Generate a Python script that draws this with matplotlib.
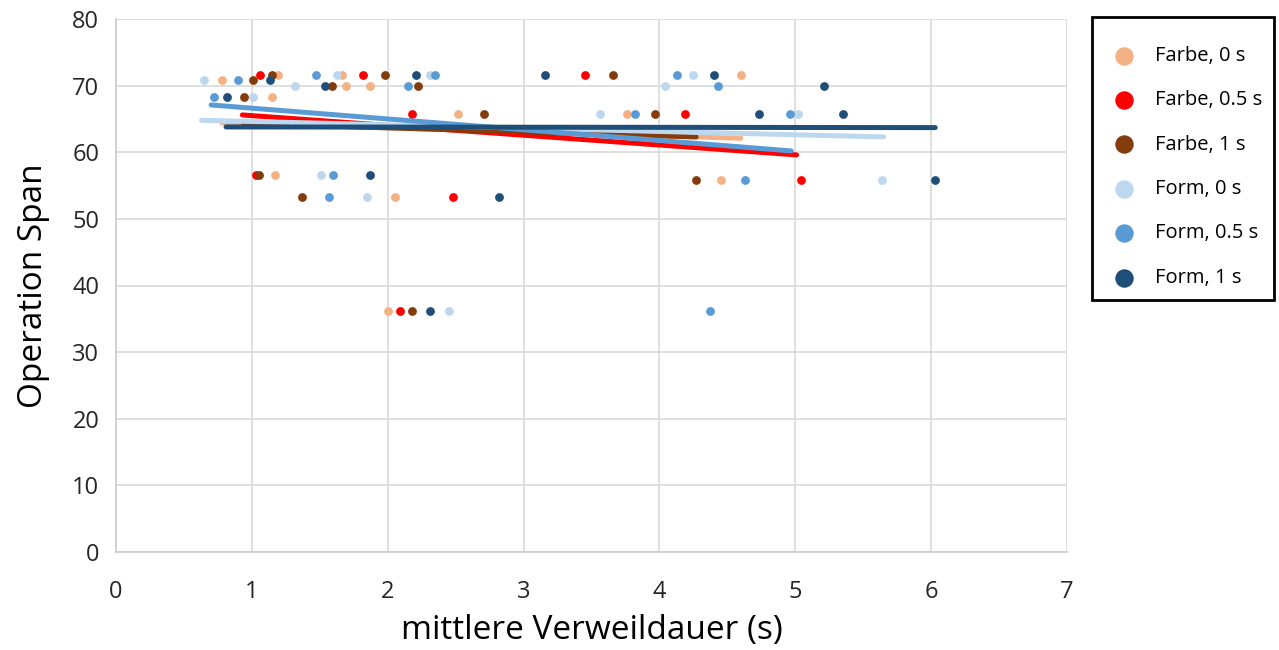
import matplotlib
matplotlib.use("Agg")
import matplotlib.pyplot as plt
from matplotlib.patches import Rectangle
import numpy as np

plt.rcParams['font.family'] = ['Open Sans', 'DejaVu Sans']

labels = ["Farbe, 0 s", "Farbe, 0.5 s", "Farbe, 1 s", "Form, 0 s", "Form, 0.5 s", "Form, 1 s"]
colors = ["#F4B183", "#FF0000", "#843C0C", "#BDD7EE", "#5B9BD5", "#1F4E79"]

farbe0_x = [0.78, 1.19, 1.66, 1.69, 1.87, 1.15, 2.52, 3.76, 4.60, 1.17, 2.05, 2.00, 4.45]
farbe0_y = [70.8, 71.6, 71.6, 70.0, 70.0, 68.3, 65.8, 65.8, 71.6, 56.6, 53.3, 36.2, 55.8]
farbe05_x = [1.06, 1.82, 2.18, 3.45, 4.19, 1.03, 2.48, 2.09, 5.04]
farbe05_y = [71.6, 71.6, 65.8, 71.6, 65.8, 56.6, 53.3, 36.2, 55.8]
farbe1_x = [1.01, 1.15, 1.59, 1.98, 2.22, 0.94, 2.71, 3.66, 3.97, 1.05, 1.37, 2.18, 4.27]
farbe1_y = [70.8, 71.6, 70.0, 71.6, 70.0, 68.3, 65.8, 71.6, 65.8, 56.6, 53.3, 36.2, 55.8]
form0_x = [0.65, 1.32, 1.63, 2.31, 1.01, 3.56, 4.04, 4.25, 5.02, 1.51, 1.85, 2.45, 5.64]
form0_y = [70.8, 70.0, 71.6, 71.6, 68.3, 65.8, 70.0, 71.6, 65.8, 56.6, 53.3, 36.2, 55.8]
form05_x = [0.90, 1.47, 2.15, 2.35, 0.72, 3.82, 4.13, 4.43, 4.96, 1.60, 1.57, 4.37, 4.63]
form05_y = [70.8, 71.6, 70.0, 71.6, 68.3, 65.8, 71.6, 70.0, 65.8, 56.6, 53.3, 36.2, 55.8]
form1_x = [1.13, 1.54, 2.21, 0.82, 3.16, 4.40, 5.21, 4.73, 5.35, 1.87, 2.82, 2.31, 6.03]
form1_y = [70.8, 70.0, 71.6, 68.3, 71.6, 71.6, 70.0, 65.8, 65.8, 56.6, 53.3, 36.2, 55.8]

# linear trend lines (x start, x end, y start, y end)
trend_x0 = [0.78, 0.93, 0.94, 0.63, 0.70, 0.81]
trend_x1 = [4.60, 5.01, 4.27, 5.65, 4.97, 6.03]
trend_y0 = [64.4, 65.6, 64.3, 64.8, 67.1, 63.8]
trend_y1 = [62.1, 59.6, 62.3, 62.3, 60.2, 63.7]

xs = [farbe0_x, farbe05_x, farbe1_x, form0_x, form05_x, form1_x]
ys = [farbe0_y, farbe05_y, farbe1_y, form0_y, form05_y, form1_y]

W, H = 1279, 650
fig = plt.figure(figsize=(W / 100, H / 100), dpi=100)
ax = fig.add_axes([116 / W, 1 - 552 / H, (1067 - 116) / W, (552 - 19) / H])

for i in range(6):
    ax.scatter(xs[i], ys[i], s=40, color=colors[i], zorder=3, label=labels[i], linewidths=0)
for i in range(6):
    ax.plot([trend_x0[i], trend_x1[i]], [trend_y0[i], trend_y1[i]], color=colors[i],
            lw=3.6, solid_capstyle='round', zorder=4)

ax.set_xlim(0, 7)
ax.set_ylim(0, 80)
ax.set_xticks(range(0, 8))
ax.set_yticks(range(0, 81, 10))
ax.grid(True, color="#d9d9d9", lw=1.2, zorder=0)
ax.set_axisbelow(True)
for sp in ["top", "right"]:
    ax.spines[sp].set_visible(False)
for sp in ["left", "bottom"]:
    ax.spines[sp].set_color("#cccccc")
    ax.spines[sp].set_linewidth(1.2)
ax.tick_params(length=0, labelsize=17, colors="#262626", pad=12)
ax.tick_params(axis='x', pad=20)
ax.set_xlabel("mittlere Verweildauer (s)", fontsize=24, color="black", labelpad=7)
ax.set_ylabel("Operation Span", fontsize=24, color="black", labelpad=16)

# legend frame
fig.patches.append(Rectangle((1092 / W, 1 - 300 / H), (1274 - 1092) / W, (300 - 17) / H,
                             transform=fig.transFigure, fill=False, edgecolor="black",
                             lw=2, zorder=5))
leg = fig.legend(loc="upper left", bbox_to_anchor=(1108 / W, 1 - 46 / H), fontsize=14.5,
                 frameon=False, markerscale=2.1, labelspacing=1.21, borderpad=0,
                 handlelength=1.6, handletextpad=0.75, borderaxespad=0)

fig.savefig("out.png", dpi=100)
